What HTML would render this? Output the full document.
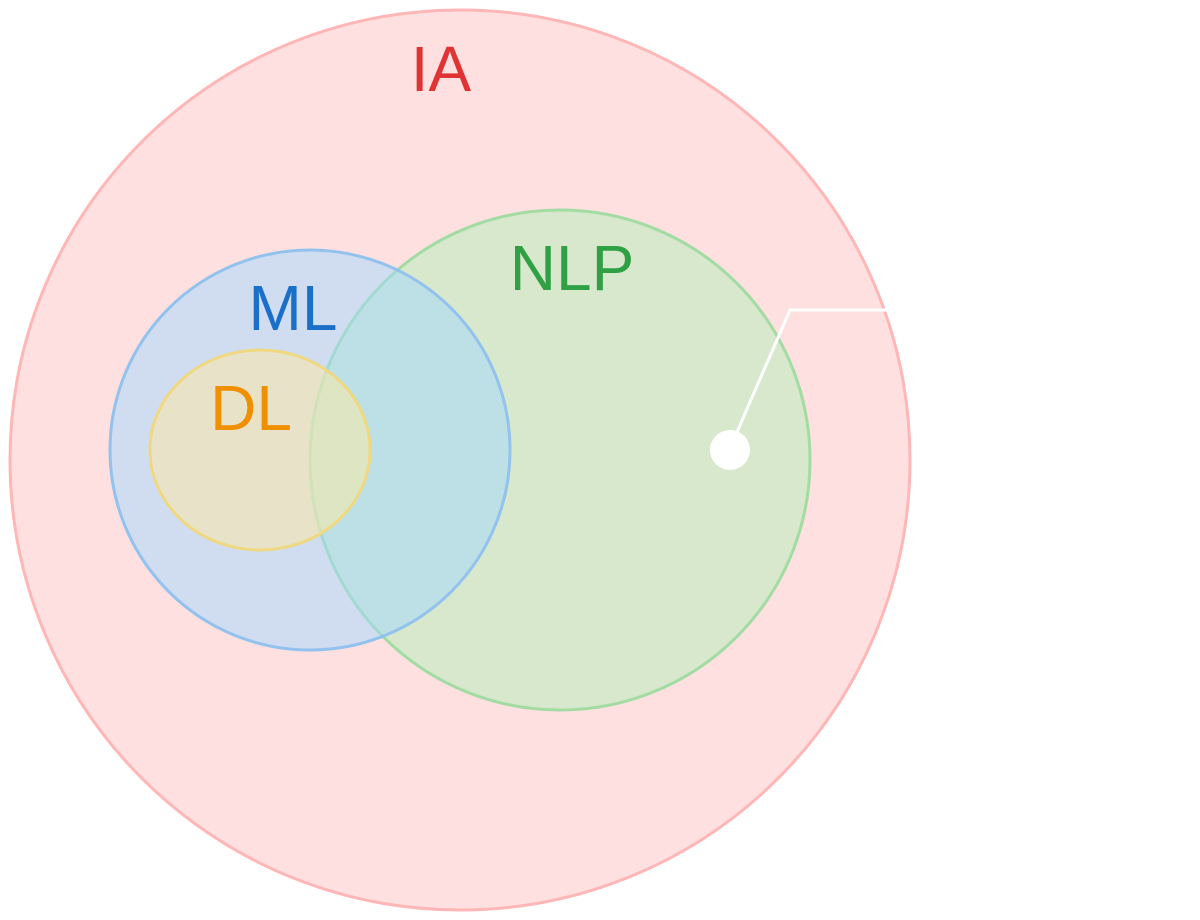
<!DOCTYPE html>
<html><head><meta charset="utf-8"><style>
html,body{margin:0;padding:0;background:#fff;width:1200px;height:920px;overflow:hidden}
text{font-family:"Liberation Sans",sans-serif}
</style></head><body>
<svg width="1200" height="920" viewBox="0 0 1200 920">
  <circle cx="460" cy="460" r="450" fill="#ffe0e1" stroke="#ffb6b6" stroke-width="3"/>
  <circle cx="560" cy="460" r="250" fill="rgba(175,240,183,0.5)" stroke="#a2dca2" stroke-width="3"/>
  <circle cx="310" cy="450" r="200" fill="rgba(161,216,255,0.5)" stroke="#92c2ee" stroke-width="3"/>
  <ellipse cx="260" cy="450" rx="110" ry="100" fill="rgba(255,234,160,0.5)" stroke="#f0d880" stroke-width="3"/>
  <text x="441" y="91" font-size="64" fill="#e03434" text-anchor="middle">IA</text>
  <text x="293" y="330" font-size="64" fill="#1a70c8" text-anchor="middle">ML</text>
  <text x="251" y="430" font-size="64" fill="#f09000" text-anchor="middle">DL</text>
  <text x="572" y="290" font-size="64" fill="#30a044" text-anchor="middle">NLP</text>
  <polyline points="737,432 790,310 887,310" fill="none" stroke="#fff" stroke-width="3"/>
  <circle cx="730" cy="450" r="20" fill="#fff"/>
</svg>
</body></html>
